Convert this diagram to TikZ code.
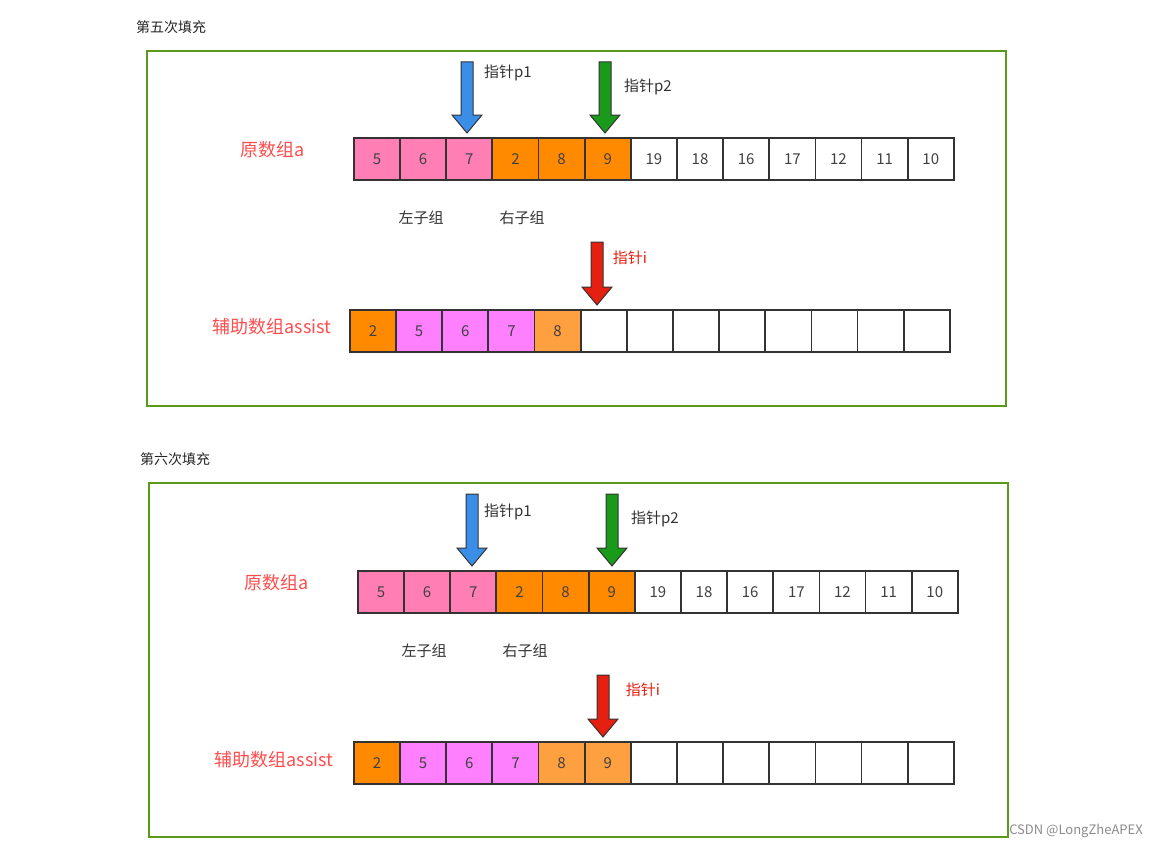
\documentclass[tikz,border=0pt]{standalone}
\usepackage{fontspec}
\setmainfont{Noto Sans CJK SC}
\definecolor{frameg}{HTML}{5A9A1A}
\definecolor{pinkA}{HTML}{FF7FB5}
\definecolor{orgA}{HTML}{FF8A00}
\definecolor{magB}{HTML}{FF80FF}
\definecolor{orgB}{HTML}{FFA040}
\definecolor{redtxt}{HTML}{FF4D4D}
\definecolor{blueA}{HTML}{3B8EE8}
\definecolor{greenA}{HTML}{1A9A1A}
\definecolor{redA}{HTML}{E52010}
\tikzset{
 cell/.style={draw=black!80,line width=1.8pt,minimum width=46.15pt,minimum height=42pt,inner sep=0,font=\fontsize{15}{15}\selectfont,text=black!75,anchor=north west},
 frm/.style={draw=frameg,line width=1.8pt},
 ttl/.style={font=\fontsize{14}{14}\selectfont,text=black!85},
 lbl/.style={font=\fontsize{18}{18}\selectfont,text=redtxt},
 ptrs/.style={draw=black!80,line width=1pt,line join=miter},
 ptl/.style={font=\fontsize{15}{15}\selectfont,text=black!80},
}
% #1 name, #2 x, #3 y top, #4 y tip, #5 color
\newcommand{\ptrarrow}[5]{%
 \coordinate (#1) at (#2,#4);
 \draw[ptrs,fill=#5] ($(#1)+(-6,{#3-#4})$) -- ($(#1)+(6,{#3-#4})$) -- ($(#1)+(6,-18)$) -- ($(#1)+(15,-18)$) -- (#1) -- ($(#1)+(-15,-18)$) -- ($(#1)+(-6,-18)$) -- cycle;}
\usetikzlibrary{calc}
\newcommand{\panel}[6]{%
\foreach \v/\c [count=\k from 0] in {#6}{
 \node[cell,fill=\c] (#1a\k) at ({#2+\k*46.15},#3) {\v};}
}
\begin{document}
\begin{tikzpicture}[x=1pt,y=-1pt]
\useasboundingbox[fill=white] (0,0) rectangle (1175,851);
% panel 1
\node[ttl] (t1) at (171,27) {第五次填充};
\draw[frm] (147,51) rectangle (1006,406);
\panel{p}{353}{137}{}{}{5/pinkA,6/pinkA,7/pinkA,2/orgA,8/orgA,9/orgA,19/white,18/white,16/white,17/white,12/white,11/white,10/white}
\panel{pb}{349}{309}{}{}{2/orgA,5/magB,6/magB,7/magB,8/orgB,/white,/white,/white,/white,/white,/white,/white,/white}
\node[lbl] (la1) at (273,150) {原数组a};
\node[lbl] (lb1) at (272,327) {辅助数组assist};
\ptrarrow{ap1}{467}{62}{133}{blueA}
\node[ptl] (tp1) at (508,73) {指针p1};
\ptrarrow{ap2}{605}{62}{133}{greenA}
\node[ptl] (tp2) at (648,87) {指针p2};
\ptrarrow{ai}{597}{242}{305}{redA}
\node[ptl,text=redA] (ti) at (630,258) {指针i};
\node[ptl] (l1) at (421,218) {左子组};
\node[ptl] (r1) at (522,218) {右子组};
% panel 2
\node[ttl] (t2) at (175,459) {第六次填充};
\draw[frm] (149,483) rectangle (1008,837);
\panel{q}{357}{570}{}{}{5/pinkA,6/pinkA,7/pinkA,2/orgA,8/orgA,9/orgA,19/white,18/white,16/white,17/white,12/white,11/white,10/white}
\panel{qb}{353}{741}{}{}{2/orgA,5/magB,6/magB,7/magB,8/orgB,9/orgB,/white,/white,/white,/white,/white,/white,/white}
\node[lbl] (la2) at (277,583) {原数组a};
\node[lbl] (lb2) at (274,760) {辅助数组assist};
\ptrarrow{bp1}{472}{494}{566}{blueA}
\node[ptl] (up1) at (508,512) {指针p1};
\ptrarrow{bp2}{612}{494}{566}{greenA}
\node[ptl] (up2) at (655,519) {指针p2};
\ptrarrow{bi}{603}{675}{737}{redA}
\node[ptl,text=redA] (ui) at (643,690) {指针i};
\node[ptl] (l2) at (424,651) {左子组};
\node[ptl] (r2) at (525,651) {右子组};
\node[font=\fontsize{13}{13}\selectfont,text=black!45] (wm) at (1076,831) {CSDN @LongZheAPEX};
\end{tikzpicture}
\end{document}
